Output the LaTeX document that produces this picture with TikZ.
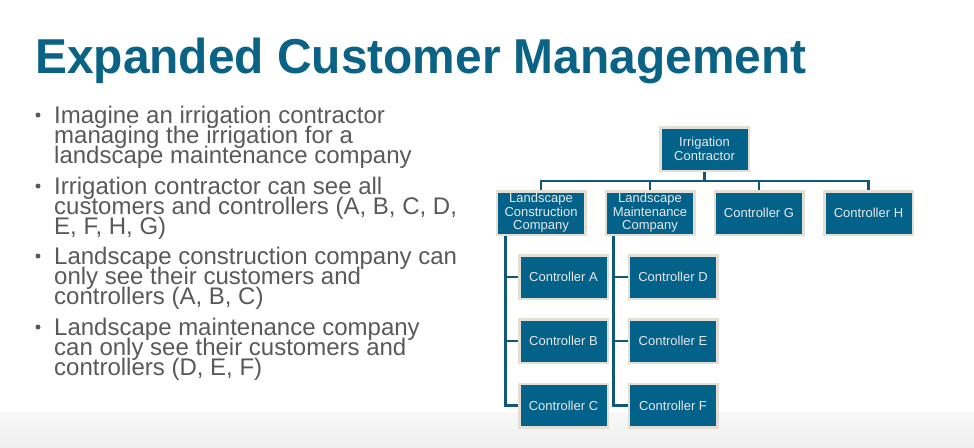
\documentclass[tikz,border=0pt]{standalone}
\usepackage{fontspec}
\setmainfont{Liberation Sans}
\newfontfamily\titlefont[FakeStretch=0.977]{Liberation Sans}
\usetikzlibrary{backgrounds}
\definecolor{titleblue}{HTML}{0A6285}
\definecolor{boxfill}{HTML}{03628A}
\definecolor{boxedge}{HTML}{E4DED4}
\definecolor{linecol}{HTML}{0E5878}
\definecolor{bodygray}{HTML}{595959}
\definecolor{boxtext}{HTML}{E8E8E8}
\tikzset{
  orgbox/.style={fill=boxfill, draw=boxedge, line width=2.5pt, minimum width=88.5pt, minimum height=43.5pt,
    inner sep=1pt, align=center, text=boxtext, font={\fontsize{13pt}{13.5pt}\selectfont\lineskiplimit=-20pt}},
  conn/.style={draw=linecol, line width=2.4pt},
  bullettext/.style={anchor=base west, inner sep=0pt, text=bodygray, align=left,
    font={\fontsize{24pt}{20pt}\selectfont\lineskiplimit=-30pt}},
  dot/.style={circle, fill=bodygray, inner sep=0pt, minimum size=5pt}
}
\begin{document}
\begin{tikzpicture}[x=1pt,y=-1pt]
\useasboundingbox (0,0) rectangle (974,447);
\shade[top color=white!97!black, bottom color=white!94!black] (0,412) rectangle (974,447);
\node[anchor=base west, inner sep=0pt, text=titleblue, font=\titlefont\bfseries\fontsize{49pt}{52pt}\selectfont] (title) at (35,73) {Expanded Customer Management};

% bullets (anchor = baseline of the last line)
\node[bullettext] (b1) at (54,163) {Imagine an irrigation contractor\\managing the irrigation for a\\landscape maintenance company};
\node[bullettext] (b2) at (54,234) {Irrigation contractor can see all\\customers and controllers (A, B, C, D,\\E, F, H, G)};
\node[bullettext] (b3) at (54,304) {Landscape construction company can\\only see their customers and\\controllers (A, B, C)};
\node[bullettext] (b4) at (54,375) {Landscape maintenance company\\can only see their customers and\\controllers (D, E, F)};
\node[dot] (d1) at (38,115) {};
\node[dot] (d2) at (38,186) {};
\node[dot] (d3) at (38,256) {};
\node[dot] (d4) at (38,327) {};

% org chart
\node[orgbox] (ic) at (704.5,149) {Irrigation\\Contractor};
\node[orgbox] (lcc) at (541,213) {Landscape\\Construction\\Company};
\node[orgbox] (lmc) at (650,213) {Landscape\\Maintenance\\Company};
\node[orgbox] (g) at (759,213) {Controller G};
\node[orgbox] (h) at (868.5,213) {Controller H};
\node[orgbox] (ca) at (563.5,277) {Controller A};
\node[orgbox] (cb) at (563.5,341) {Controller B};
\node[orgbox] (cc) at (563.5,405.5) {Controller C};
\node[orgbox] (cd) at (673,277) {Controller D};
\node[orgbox] (ce) at (673,341) {Controller E};
\node[orgbox] (cf) at (673,405.5) {Controller F};

\begin{pgfonlayer}{background}
\coordinate (bus) at (704.5,181);
\path (lcc.south west) ++(10,0) coordinate (sL);
\path (lmc.south west) ++(9,0) coordinate (sM);
\draw[conn] (ic.south) -- (bus);
\draw[conn] (lcc.north) |- (bus) -| (h.north);
\draw[conn] (lmc.north) -- (lmc.north |- bus);
\draw[conn] (g.north) -- (g.north |- bus);
\draw[conn] (sL) |- (cc.west);
\draw[conn] (ca.west) -- (ca.west -| sL);
\draw[conn] (cb.west) -- (cb.west -| sL);
\draw[conn] (sM) |- (cf.west);
\draw[conn] (cd.west) -- (cd.west -| sM);
\draw[conn] (ce.west) -- (ce.west -| sM);
\end{pgfonlayer}
\end{tikzpicture}
\end{document}
